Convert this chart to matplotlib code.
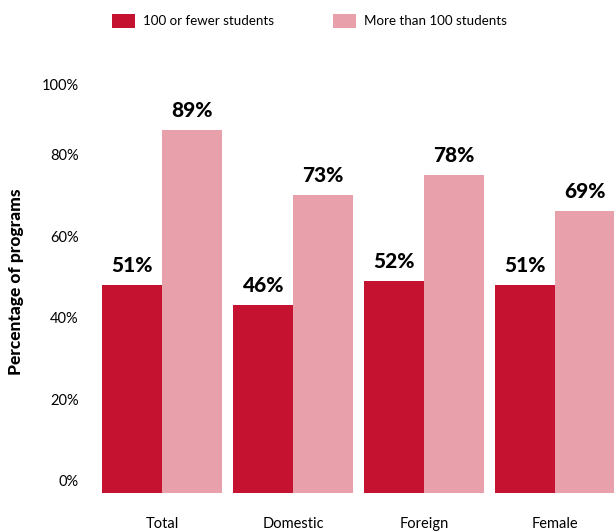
import matplotlib
matplotlib.use("Agg")
import matplotlib.pyplot as plt
import matplotlib.transforms as mtransforms
from matplotlib.patches import Patch

categories = ["Total", "Domestic", "Foreign", "Female"]
small_programs = [51, 46, 52, 51]
large_programs = [89, 73, 78, 69]
series_names = ["100 or fewer students", "More than 100 students"]
ytick_values = [0, 20, 40, 60, 80, 100]
ytick_labels = ["0%", "20%", "40%", "60%", "80%", "100%"]

RED = "#C41230"
PINK = "#E8A1AB"

plt.rcParams["font.family"] = ["Lato", "DejaVu Sans"]

W, H = 614, 531
fig = plt.figure(figsize=(W / 100, H / 100), dpi=100)
ax = fig.add_axes([90 / W, 38 / H, 524 / W, 408 / H])

x = list(range(len(categories)))
bw = 0.455
xs_small = [i - bw / 2 for i in x]
xs_large = [i + bw / 2 for i in x]
ax.bar(xs_small, small_programs, width=bw, color=RED, linewidth=0)
ax.bar(xs_large, large_programs, width=bw, color=PINK, linewidth=0)

for xs, vals in ((xs_small, small_programs), (xs_large, large_programs)):
    for xi, v in zip(xs, vals):
        ax.annotate(f"{v}%", (xi, v), xytext=(0, 9.5), textcoords="offset points",
                    ha="center", va="baseline", fontsize=15, fontweight="black",
                    color="black", annotation_clip=False)

ax.set_xlim(-0.55, 3.45)
ax.set_ylim(0, 100)
ax.set_xticks(x)
ax.set_xticklabels(categories, fontsize=10.5)
ax.set_yticks(ytick_values)
ax.set_yticklabels(ytick_labels, fontsize=10.5)
ax.tick_params(axis="both", length=0)
ax.tick_params(axis="x", pad=17)
ax.tick_params(axis="y", pad=8)
for s in ax.spines.values():
    s.set_visible(False)

# tick labels sit slightly above their gridline positions, except the top one
for lab, val in zip(ax.get_yticklabels(), ytick_values):
    if val != 100:
        lab.set_transform(lab.get_transform() +
                          mtransforms.ScaledTranslation(0, 12 / 100, fig.dpi_scale_trans))

fig.text(16 / W, 1 - 282 / H, "Percentage of programs", rotation=90,
         ha="center", va="center", fontsize=12.5, fontweight="black")

handles = [Patch(facecolor=RED, edgecolor="none"), Patch(facecolor=PINK, edgecolor="none")]
fig.legend(handles, series_names, loc="center left", bbox_to_anchor=(112 / W, 1 - 21 / H),
           borderpad=0, borderaxespad=0, ncol=2, frameon=False, fontsize=9.6,
           handlelength=1.75, handleheight=1.25, handletextpad=0.6, columnspacing=4.4)

fig.savefig("out.png", dpi=100)
